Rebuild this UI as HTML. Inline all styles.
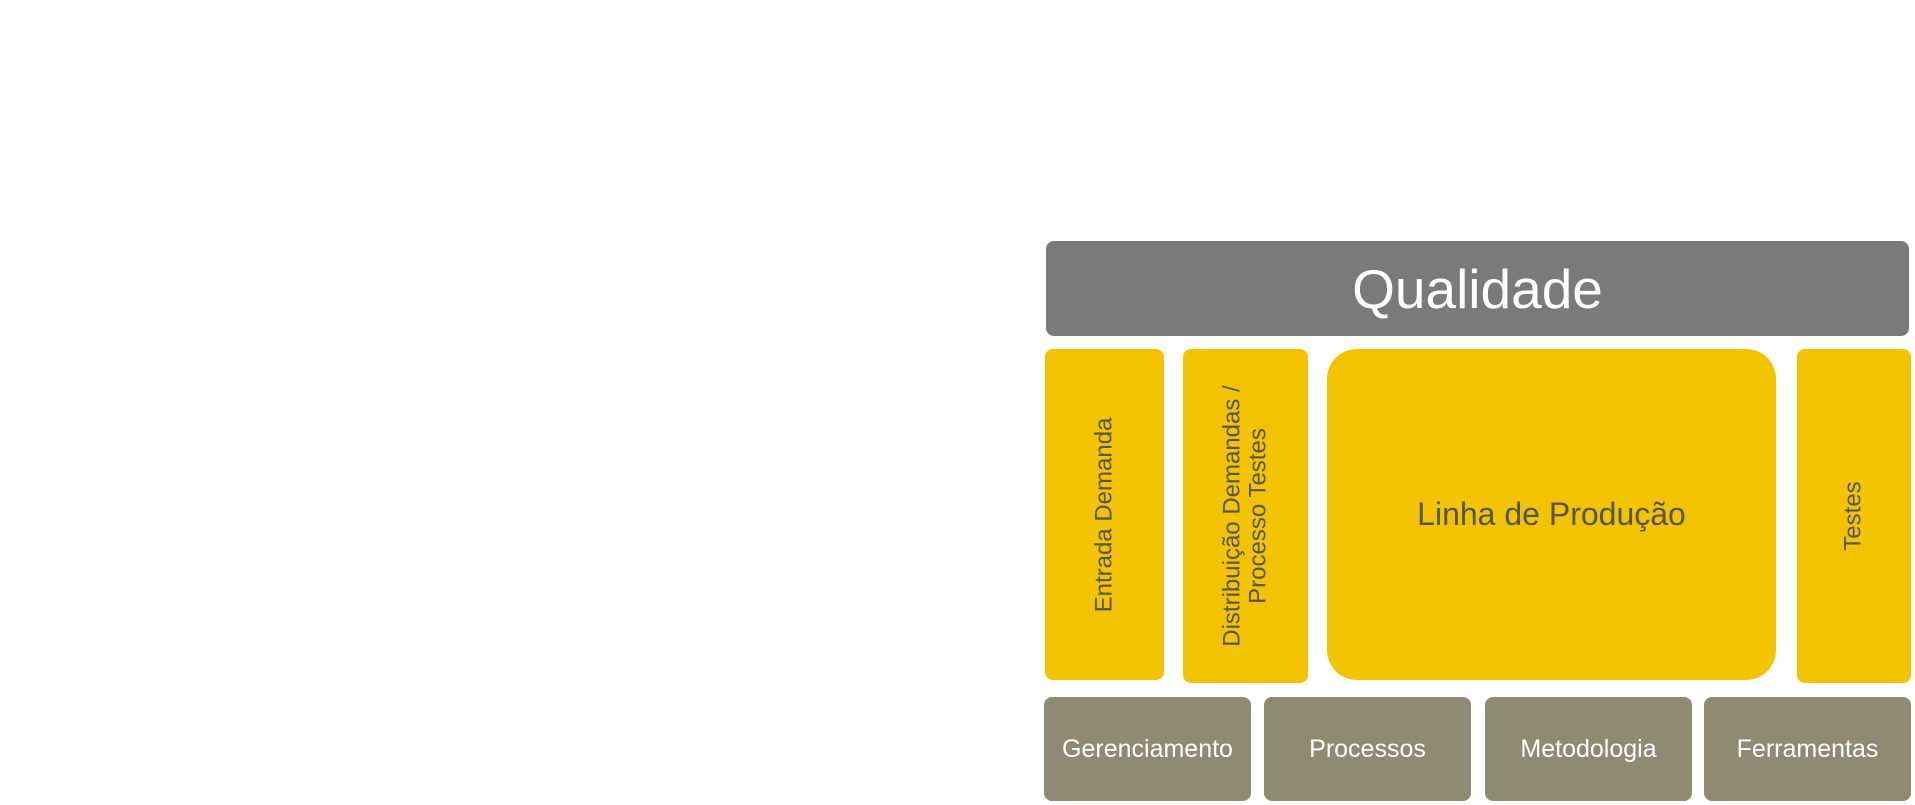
<!DOCTYPE html>
<html><head><meta charset="utf-8"><style>
body{margin:0;width:1915px;height:805px;background:#fff;position:relative;overflow:hidden;font-family:"Liberation Sans",sans-serif}
.b{position:absolute;display:flex;align-items:center;justify-content:center;text-align:center;box-sizing:border-box}
.g{background:#7a7a7a;color:#fff;border-radius:8px}
.y{background:#f3c300;color:#555;border-radius:8px}
.o{background:#8e8b72;color:#fff;border-radius:8px;font-size:25px}
.v{transform:rotate(-90deg);white-space:nowrap;font-size:24px;line-height:26px}
</style></head><body>
<div class="b g" style="left:1046px;top:241px;width:863px;height:95px;font-size:55px">Qualidade</div>
<div class="b y" style="left:1045px;top:349px;width:119px;height:331px"><span class="v">Entrada Demanda</span></div>
<div class="b y" style="left:1183px;top:349px;width:125px;height:334px"><span class="v">Distribuição Demandas /<br>Processo Testes</span></div>
<div class="b y" style="left:1327px;top:349px;width:449px;height:331px;border-radius:30px;font-size:32px">Linha de Produção</div>
<div class="b y" style="left:1797px;top:349px;width:114px;height:334px"><span class="v">Testes</span></div>
<div class="b o" style="left:1044px;top:697px;width:207px;height:104px">Gerenciamento</div>
<div class="b o" style="left:1264px;top:697px;width:207px;height:104px">Processos</div>
<div class="b o" style="left:1485px;top:697px;width:207px;height:104px">Metodologia</div>
<div class="b o" style="left:1704px;top:697px;width:207px;height:104px">Ferramentas</div>
</body></html>
